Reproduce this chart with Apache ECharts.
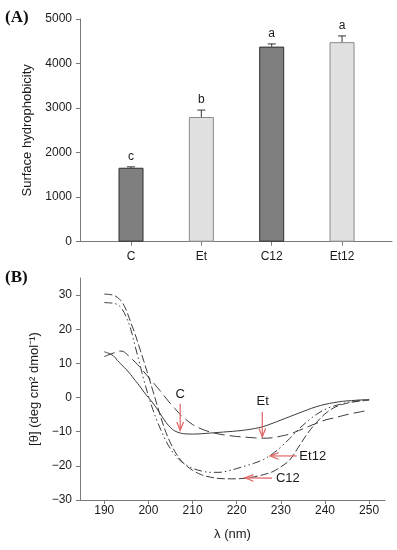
<!DOCTYPE html>
<html>
<head>
<meta charset="utf-8">
<script src="https://cdn.jsdelivr.net/npm/echarts@6/dist/echarts.min.js"></script>
<style>html,body{margin:0;padding:0;background:#fff}#chart{width:397px;height:550px}</style>
</head>
<body>
<div id="chart"></div>
<script>
// ---- Panel A data ----
const categories = ['C', 'Et', 'C12', 'Et12'];
const hydrophobicity = [1660, 2800, 4380, 4480];
const hydroError = [20, 155, 60, 140];
const groupLetters = ['c', 'b', 'a', 'a'];

// ---- Panel B data ----
const wavelength = [190,192,193,194,195,196,197,198,199,200,201,202,203,204,205,206,207,208,210,212,214,216,218,220,222,224,226,228,230,232,234,236,238,240,242,244,246,248,250];
const curveC   = [13.4,12.3,10.8,9.5,8.2,6.7,5.0,3.4,1.6,0,-1.6,-3.4,-5.4,-7.3,-8.8,-9.8,-10.3,-10.6,-10.7,-10.6,-10.4,-10.2,-10.0,-9.8,-9.5,-9.1,-8.5,-7.6,-6.6,-5.6,-4.6,-3.6,-2.7,-2.0,-1.5,-1.1,-0.9,-0.7,-0.6];
const curveEt  = [12.0,13.0,13.5,13.6,12.8,11.6,10.4,9.0,7.5,6.0,4.5,3.0,1.4,-0.2,-1.8,-3.2,-4.7,-5.9,-7.9,-9.2,-10.1,-10.7,-11.1,-11.4,-11.6,-11.8,-11.9,-11.8,-11.3,-10.7,-9.7,-8.6,-7.6,-6.6,-6.0,-5.3,-4.7,-4.2,-3.7];
const curveC12 = [30.3,30.0,29.3,28.0,25.5,22.0,18.5,14.5,10.5,6.3,2.0,-2.3,-6.6,-10.3,-13.3,-15.8,-17.8,-19.3,-21.3,-22.6,-23.3,-23.7,-23.8,-23.8,-23.6,-23.2,-22.6,-21.8,-20.3,-18.3,-14.5,-10.6,-7.4,-4.8,-3.0,-2.0,-1.4,-1.0,-0.8];
const curveEt12= [27.8,27.6,27.2,26.0,23.5,20.0,15.0,10.0,5.0,0.5,-3.5,-7.0,-10.0,-12.8,-15.0,-16.8,-18.2,-19.3,-20.7,-21.5,-21.9,-21.9,-21.5,-20.8,-20.0,-19.2,-18.2,-16.6,-14.5,-12.0,-9.3,-7.0,-5.0,-3.5,-2.5,-1.8,-1.2,-0.9,-0.6];
const xTicksB = [190, 200, 210, 220, 230, 240, 250];
const yTicksB = [-30, -20, -10, 0, 10, 20, 30];

// annotations: label text, label position, arrow start/end
const annoText = ['C', 'Et', 'Et12', 'C12'];
const annoLabelX = [207.2, 225.9, 234.2, 228.9];
const annoLabelY = [1.0, -1.2, -17.1, -23.7];
const annoAlign = ['center', 'center', 'left', 'left'];
const arrowFrom = [[207.2, -1.8], [225.8, -4.2], [233.6, -17.1], [228.0, -23.6]];
const arrowTo   = [[207.2, -9.6], [225.8, -11.5], [227.6, -17.1], [221.9, -23.5]];

const FONT = 'Liberation Sans, Arial, sans-serif';
const AXIS_COLOR = '#7a7a7a';
const TEXT_COLOR = '#1a1a1a';
const LINE_COLOR = '#3c3c3c';
const ARROW_COLOR = '#e06464';
const darkFill = '#7f7f7f', lightFill = '#e1e1e1';

const fmtMinus = v => (v < 0 ? '\u2212' + Math.abs(v) : String(v));

const chart = echarts.init(document.getElementById('chart'), null, { renderer: 'canvas' });

const option = {
  animation: false,
  backgroundColor: '#fff',
  textStyle: { fontFamily: FONT },
  graphic: [
    { type: 'text', left: 5, top: 9, style: { text: '(A)', font: 'bold 17px "Liberation Serif", "Times New Roman", serif', fill: '#111' } },
    { type: 'text', left: 5, top: 269, style: { text: '(B)', font: 'bold 17px "Liberation Serif", "Times New Roman", serif', fill: '#111' } }
  ],
  grid: [
    { left: 80, right: 5, top: 19, height: 222.7 },
    { left: 80, right: 12, top: 278, height: 222 }
  ],
  xAxis: [
    {
      gridIndex: 0, type: 'value', min: -0.725, max: 3.71,
      axisLine: { onZero: false, lineStyle: { color: AXIS_COLOR } },
      axisTick: { show: true, length: 4, customValues: [0, 1, 2, 3], lineStyle: { color: AXIS_COLOR } },
      axisLabel: { customValues: [0, 1, 2, 3], formatter: v => categories[Math.round(v)], margin: 9, fontSize: 12, color: TEXT_COLOR, fontFamily: FONT },
      splitLine: { show: false }
    },
    {
      gridIndex: 1, type: 'value', min: 184.5, max: 253.6,
      name: 'λ (nm)', nameLocation: 'middle', nameGap: 28,
      nameTextStyle: { fontSize: 13, color: TEXT_COLOR, fontFamily: FONT },
      axisLine: { onZero: false, lineStyle: { color: AXIS_COLOR } },
      axisTick: { show: true, length: 4, customValues: xTicksB, lineStyle: { color: AXIS_COLOR } },
      axisLabel: { customValues: xTicksB, margin: 5, fontSize: 12, color: TEXT_COLOR, fontFamily: FONT },
      splitLine: { show: false }
    }
  ],
  yAxis: [
    {
      gridIndex: 0, type: 'value', min: 0, max: 5000, interval: 1000,
      name: 'Surface hydrophobicity', nameLocation: 'middle', nameGap: 42,
      nameTextStyle: { fontSize: 13, color: TEXT_COLOR, fontFamily: FONT },
      axisLine: { show: true, onZero: false, lineStyle: { color: AXIS_COLOR } },
      axisTick: { show: true, length: 4, lineStyle: { color: AXIS_COLOR } },
      axisLabel: { formatter: v => String(v), margin: 8, fontSize: 12, color: TEXT_COLOR, fontFamily: FONT },
      splitLine: { show: false }
    },
    {
      gridIndex: 1, type: 'value', min: -30, max: 35,
      name: '[θ] (deg cm² dmol⁻¹)', nameLocation: 'middle', nameGap: 36,
      nameTextStyle: { fontSize: 13, color: TEXT_COLOR, fontFamily: FONT },
      axisLine: { show: true, onZero: false, lineStyle: { color: AXIS_COLOR } },
      axisTick: { show: true, length: 4, customValues: yTicksB, lineStyle: { color: AXIS_COLOR } },
      axisLabel: { customValues: yTicksB, formatter: fmtMinus, margin: 8, fontSize: 12, color: TEXT_COLOR, fontFamily: FONT },
      splitLine: { show: false }
    }
  ],
  series: [
    {
      type: 'bar', xAxisIndex: 0, yAxisIndex: 0, barWidth: 25,
      data: hydrophobicity.map((v, i) => ({
        value: [i, v],
        itemStyle: i % 2 === 0
          ? { color: darkFill, borderColor: '#2e2e2e', borderWidth: 1 }
          : { color: lightFill, borderColor: '#8a8a8a', borderWidth: 1 }
      }))
    },
    {
      type: 'custom', xAxisIndex: 0, yAxisIndex: 0, z: 5,
      data: hydrophobicity.map((v, i) => [i, v, hydroError[i]]),
      encode: { x: 0, y: 1 },
      renderItem: function (params, api) {
        const x = api.value(0), v = api.value(1), e = api.value(2);
        const base = api.coord([x, v]);
        const top = api.coord([x, v + e]);
        const st = { stroke: '#333', lineWidth: 1 };
        return {
          type: 'group',
          children: [
            { type: 'line', shape: { x1: base[0], y1: base[1], x2: top[0], y2: top[1] }, style: st },
            { type: 'line', shape: { x1: top[0] - 4, y1: top[1], x2: top[0] + 4, y2: top[1] }, style: st },
            { type: 'text', x: top[0], y: top[1] - 4, style: { text: groupLetters[params.dataIndex], align: 'center', verticalAlign: 'bottom', font: '12px ' + FONT, fill: TEXT_COLOR } }
          ]
        };
      }
    },
    {
      type: 'line', name: 'C', xAxisIndex: 1, yAxisIndex: 1, showSymbol: false, smooth: 0.35,
      data: wavelength.map((w, i) => [w, curveC[i]]),
      lineStyle: { color: LINE_COLOR, width: 1, type: 'solid' }
    },
    {
      type: 'line', name: 'Et', xAxisIndex: 1, yAxisIndex: 1, showSymbol: false, smooth: 0.35,
      data: wavelength.map((w, i) => [w, curveEt[i]]),
      lineStyle: { color: LINE_COLOR, width: 1, type: [11, 5] }
    },
    {
      type: 'line', name: 'C12', xAxisIndex: 1, yAxisIndex: 1, showSymbol: false, smooth: 0.35,
      data: wavelength.map((w, i) => [w, curveC12[i]]),
      lineStyle: { color: LINE_COLOR, width: 1, type: [8, 3] }
    },
    {
      type: 'line', name: 'Et12', xAxisIndex: 1, yAxisIndex: 1, showSymbol: false, smooth: 0.35,
      data: wavelength.map((w, i) => [w, curveEt12[i]]),
      lineStyle: { color: LINE_COLOR, width: 1, type: [8, 3, 1.5, 3, 1.5, 3] }
    },
    {
      type: 'custom', xAxisIndex: 1, yAxisIndex: 1, z: 6,
      data: arrowFrom.map((p, i) => [p[0], p[1], arrowTo[i][0], arrowTo[i][1]]),
      encode: { x: [0, 2], y: [1, 3] },
      renderItem: function (params, api) {
        const p1 = api.coord([api.value(0), api.value(1)]);
        const p2 = api.coord([api.value(2), api.value(3)]);
        const a = Math.atan2(p2[1] - p1[1], p2[0] - p1[0]);
        const L = 9, s = 0.38;
        const h1 = [p2[0] - L * Math.cos(a - s), p2[1] - L * Math.sin(a - s)];
        const h2 = [p2[0] - L * Math.cos(a + s), p2[1] - L * Math.sin(a + s)];
        const st = { stroke: ARROW_COLOR, lineWidth: 1.2, fill: null };
        return {
          type: 'group',
          children: [
            { type: 'line', shape: { x1: p1[0], y1: p1[1], x2: p2[0], y2: p2[1] }, style: st },
            { type: 'polyline', shape: { points: [h1, p2, h2] }, style: st }
          ]
        };
      }
    },
    {
      type: 'custom', xAxisIndex: 1, yAxisIndex: 1, z: 7,
      data: annoText.map((t, i) => [annoLabelX[i], annoLabelY[i]]),
      encode: { x: 0, y: 1 },
      renderItem: function (params, api) {
        const p = api.coord([api.value(0), api.value(1)]);
        return {
          type: 'text', x: p[0], y: p[1],
          style: { text: annoText[params.dataIndex], align: annoAlign[params.dataIndex], verticalAlign: 'middle', font: '13px ' + FONT, fill: TEXT_COLOR }
        };
      }
    }
  ]
};
chart.setOption(option);
</script>
</body>
</html>
